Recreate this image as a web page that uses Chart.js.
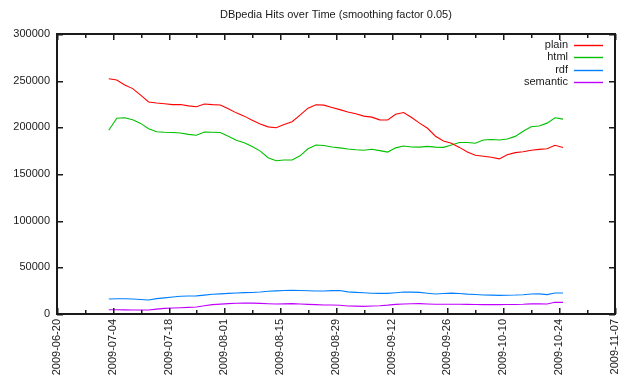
<!DOCTYPE html>
<html>
<head>
<meta charset="utf-8">
<script src="https://cdn.jsdelivr.net/npm/chart.js@4/dist/chart.umd.min.js"></script>
<style>
  body { margin: 0; background: #fff; }
  canvas { display: block; }
</style>
</head>
<body>
<canvas id="myChart" width="633" height="376"></canvas>
<script>
var title = "DBpedia Hits over Time (smoothing factor 0.05)";
var startDate = "2009-06-20";
var endDate = "2009-11-07";
var yTicks = [0, 50000, 100000, 150000, 200000, 250000, 300000];

var dates = ["2009-07-03","2009-07-05","2009-07-07","2009-07-09","2009-07-11","2009-07-13","2009-07-15","2009-07-17",
  "2009-07-19","2009-07-21","2009-07-23","2009-07-25","2009-07-27","2009-07-29","2009-07-31","2009-08-02",
  "2009-08-04","2009-08-06","2009-08-08","2009-08-10","2009-08-12","2009-08-14","2009-08-16","2009-08-18",
  "2009-08-20","2009-08-22","2009-08-24","2009-08-26","2009-08-28","2009-08-30","2009-09-01","2009-09-03",
  "2009-09-05","2009-09-07","2009-09-09","2009-09-11","2009-09-13","2009-09-15","2009-09-17","2009-09-19",
  "2009-09-21","2009-09-23","2009-09-25","2009-09-27","2009-09-29","2009-10-01","2009-10-03","2009-10-05",
  "2009-10-07","2009-10-09","2009-10-11","2009-10-13","2009-10-15","2009-10-17","2009-10-19","2009-10-21",
  "2009-10-23","2009-10-25"];

var plain = [252100,250700,245300,241500,234500,227100,226000,225300,224300,224500,223000,222000,225000,224300,224000,220000,
  215500,212000,207500,203500,200500,199600,203000,206000,213000,220500,224200,223800,221300,219000,216500,214500,
  212000,210900,208000,207900,214000,215900,210500,204500,199000,190500,185400,183000,178500,173500,170000,169100,
  168000,166200,170600,172900,173800,175500,176400,177000,180800,178300];

var html = [196800,209700,210200,208200,204200,198500,195300,194700,194500,194000,192500,191500,195000,194700,194500,190500,
  186200,183500,179500,174500,167500,164200,165000,165000,169500,177000,181100,180500,179000,178000,176800,176000,
  175500,176500,175000,173500,178000,180000,179000,178800,179600,178800,178500,181000,183800,183800,182900,186500,
  187000,186400,187500,190300,195800,200700,201500,204500,210300,208800];

var rdf = [16100,16300,16400,16100,15600,15000,16500,17300,18200,19000,19300,19400,20200,21100,21600,22100,
  22500,22900,23100,23600,24300,24800,25200,25400,25200,24900,24700,24700,25000,25200,23700,23200,
  22700,22300,22100,22100,22800,23500,23400,23200,22300,21500,22000,22400,21900,21300,20900,20400,
  20200,20000,20100,20300,20700,21500,21600,20800,22500,22500];

var semantic = [4600,4500,4400,4300,4300,4300,5200,6000,6400,6700,7100,7500,8800,10000,10600,11100,
  11500,11800,11600,11400,11000,10700,10900,11100,10700,10300,10000,9600,9600,9300,8600,8400,
  8200,8500,8900,9500,10300,10700,11000,11100,10700,10400,10400,10400,10400,10300,10100,10000,
  10000,10000,10100,10200,10400,10800,11000,10700,12500,12500];

var seriesNames = ["plain", "html", "rdf", "semantic"];
var seriesColors = ["#ff0000", "#00c000", "#0080ff", "#c000ff"];

var DAY = 86400000;
var t0 = Date.parse(startDate);
function dayOf(s) { return (Date.parse(s) - t0) / DAY; }
function pts(vals) {
  var out = [];
  for (var i = 0; i < vals.length; i++) out.push({ x: dayOf(dates[i]), y: vals[i] });
  return out;
}

var FONT = "Liberation Sans, Arial, sans-serif";
var TXT = "#1a1a1a";

var boxPlugin = {
  id: "box",
  afterDraw: function (chart) {
    var ctx = chart.ctx, a = chart.chartArea;
    var xs = chart.scales.x, ys = chart.scales.y;
    var L = Math.round(a.left), R = Math.round(a.right), T = Math.round(a.top), B = Math.round(a.bottom);
    ctx.save();
    ctx.fillStyle = "#1a1a1a";
    // frame, 2px like the gnuplot border
    ctx.fillRect(L - 1, T - 1, R - L + 2, 2);
    ctx.fillRect(L - 1, B - 1, R - L + 2, 2);
    ctx.fillRect(L - 1, T - 1, 2, B - T + 2);
    ctx.fillRect(R - 1, T - 1, 2, B - T + 2);
    // x tics (major every 14 days, minor every 7) on bottom and top
    var last = dayOf(endDate);
    for (var d = 0; d <= last; d += 7) {
      var px = Math.round(xs.getPixelForValue(d));
      var len = (d % 14 === 0) ? 6 : 4;
      ctx.fillRect(px, B - len, 1.5, len);
      ctx.fillRect(px, T, 1.5, len);
    }
    // y tics on left and right
    for (var j = 0; j < yTicks.length; j++) {
      var py = Math.round(ys.getPixelForValue(yTicks[j]));
      ctx.fillRect(L, py, 6, 1.5);
      ctx.fillRect(R - 6, py, 6, 1.5);
    }

    // title
    ctx.fillStyle = TXT;
    ctx.font = "11px " + FONT;
    ctx.textAlign = "center";
    ctx.textBaseline = "middle";
    ctx.fillText(title, (a.left + a.right) / 2, 15);

    // key, top right
    ctx.textAlign = "right";
    for (var k = 0; k < seriesNames.length; k++) {
      var ky = Math.round(45 + k * 12.3);
      ctx.fillStyle = TXT;
      ctx.fillText(seriesNames[k], R - 47, ky);
      ctx.strokeStyle = seriesColors[k];
      ctx.lineWidth = 1.4;
      ctx.beginPath();
      ctx.moveTo(R - 41, ky + 0.5);
      ctx.lineTo(R - 12, ky + 0.5);
      ctx.stroke();
    }
    ctx.restore();
  }
};

var sets = [plain, html, rdf, semantic];
var datasets = [];
for (var i = 0; i < sets.length; i++) {
  datasets.push({
    label: seriesNames[i],
    data: pts(sets[i]),
    borderColor: seriesColors[i],
    borderWidth: 1.1,
    pointRadius: 0,
    tension: 0,
    fill: false
  });
}

new Chart("myChart", {
  type: "line",
  data: { datasets: datasets },
  plugins: [boxPlugin],
  options: {
    responsive: false,
    animation: false,
    layout: { padding: { top: 34, right: 15, left: 0, bottom: 0 } },
    plugins: { legend: { display: false }, title: { display: false }, tooltip: { enabled: false } },
    scales: {
      x: {
        type: "linear",
        min: 0,
        max: dayOf(endDate),
        afterFit: function (s) { s.height = 62; },
        afterBuildTicks: function (s) {
          var t = [];
          for (var d = 0; d <= dayOf(endDate); d += 14) t.push({ value: d });
          s.ticks = t;
        },
        grid: { display: false, drawTicks: false },
        border: { display: false },
        ticks: {
          autoSkip: false,
          minRotation: 90,
          maxRotation: 90,
          padding: 5,
          color: TXT,
          font: { family: FONT, size: 11 },
          callback: function (v) { return new Date(t0 + v * DAY).toISOString().slice(0, 10); }
        }
      },
      y: {
        min: 0,
        max: 300000,
        afterFit: function (s) { s.width = 57; },
        afterBuildTicks: function (s) {
          s.ticks = yTicks.map(function (v) { return { value: v }; });
        },
        grid: { display: false, drawTicks: false },
        border: { display: false },
        ticks: {
          padding: 7,
          color: TXT,
          font: { family: FONT, size: 11 },
          callback: function (v) { return String(v); }
        }
      }
    }
  }
});
</script>
</body>
</html>
